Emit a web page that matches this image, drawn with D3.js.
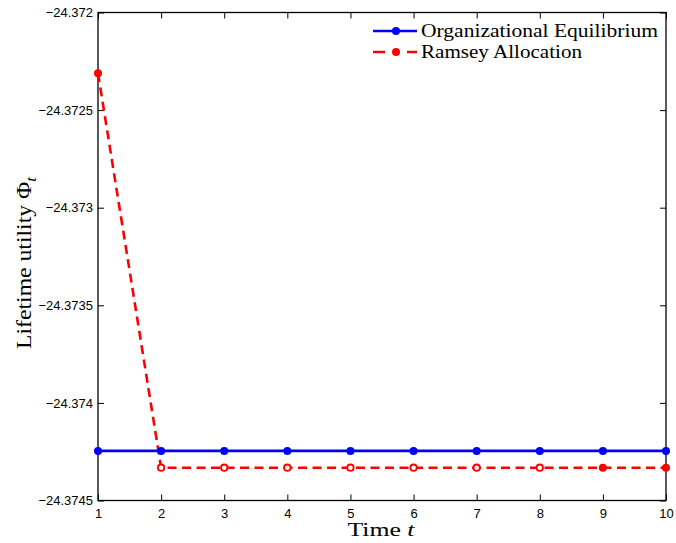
<!DOCTYPE html>
<html><head><meta charset="utf-8">
<script src="https://cdn.jsdelivr.net/npm/d3@7"></script>
<style>body{margin:0;background:#fff}</style>
</head><body>
<script>
const periods = [1,2,3,4,5,6,7,8,9,10];
const organizational = [-24.374246,-24.374246,-24.374246,-24.374246,-24.374246,-24.374246,-24.374246,-24.374246,-24.374246,-24.374246];
const ramsey = [-24.3723106,-24.374332,-24.374332,-24.374332,-24.374332,-24.374332,-24.374332,-24.374332,-24.374332,-24.374332];
const ramseyHollow = [false,true,true,true,true,true,true,true,false,false];
const yTicks = [-24.372,-24.3725,-24.373,-24.3735,-24.374,-24.3745];
const yTickLabels = ["\u221224.372","\u221224.3725","\u221224.373","\u221224.3735","\u221224.374","\u221224.3745"];
const xTicks = [1,2,3,4,5,6,7,8,9,10];
const seriesNames = ["Organizational Equilibrium","Ramsey Allocation"];

(function(){
const W=676,H=543;
const m={l:98,t:12.5,r:666,b:500.5};
const svg=d3.select("body").append("svg").attr("width",W).attr("height",H);
const x=d3.scaleLinear().domain([1,10]).range([m.l,m.r]);
const y=d3.scaleLinear().domain([-24.3745,-24.372]).range([m.b,m.t]);

svg.append("rect").attr("x",m.l).attr("y",m.t).attr("width",m.r-m.l).attr("height",m.b-m.t)
  .attr("fill","none").attr("stroke","#000").attr("stroke-width",1.3);

const tickFont="Liberation Sans, Arial, sans-serif";
const axB=d3.axisBottom(x).tickValues(xTicks).tickSize(-6).tickPadding(8).tickFormat(d3.format("d"));
const gb=svg.append("g").attr("transform",`translate(0,${m.b})`).call(axB);
const axT=d3.axisTop(x).tickValues(xTicks).tickSize(-6).tickFormat("");
const gt=svg.append("g").attr("transform",`translate(0,${m.t})`).call(axT);
const axL=d3.axisLeft(y).tickValues(yTicks).tickSize(-6).tickPadding(5).tickFormat((d,i)=>yTickLabels[i]);
const gl=svg.append("g").attr("transform",`translate(${m.l},0)`).call(axL);
const axR=d3.axisRight(y).tickValues(yTicks).tickSize(-6).tickFormat("");
const gr=svg.append("g").attr("transform",`translate(${m.r},0)`).call(axR);
[gb,gt,gl,gr].forEach(g=>{
  g.select(".domain").remove();
  g.selectAll(".tick line").attr("stroke","#000").attr("stroke-width",1);
  g.selectAll(".tick text").attr("font-family",tickFont).attr("font-size",13).attr("fill","#000");
});

const line=d3.line().x((d,i)=>x(periods[i])).y(d=>y(d));
svg.append("path").datum(organizational).attr("d",line).attr("fill","none")
  .attr("stroke","#0000ff").attr("stroke-width",2.6);
svg.append("path").datum(ramsey).attr("d",line).attr("fill","none")
  .attr("stroke","#ff0000").attr("stroke-width",2.6).attr("stroke-dasharray","9,5.5");

svg.selectAll(".mo").data(organizational).join("circle")
  .attr("cx",(d,i)=>x(periods[i])).attr("cy",d=>y(d)).attr("r",4).attr("fill","#0000ff");
svg.selectAll(".mr").data(ramsey).join("circle")
  .attr("cx",(d,i)=>x(periods[i])).attr("cy",d=>y(d))
  .attr("r",(d,i)=>ramseyHollow[i]?3.2:4)
  .attr("fill",(d,i)=>ramseyHollow[i]?"#fff":"#ff0000")
  .attr("stroke","#ff0000").attr("stroke-width",(d,i)=>ramseyHollow[i]?1.8:0);

const serif="Liberation Serif, Times New Roman, serif";
svg.append("text").attr("x",381).attr("y",536).attr("text-anchor","middle")
  .attr("font-family",serif).attr("font-size",18)
  .attr("textLength",67).attr("lengthAdjust","spacingAndGlyphs")
  .html('Time <tspan font-style="italic">t</tspan>');
svg.append("text").attr("transform",`translate(31,263) rotate(-90)`).attr("text-anchor","middle")
  .attr("font-family",serif).attr("font-size",20)
  .attr("textLength",172).attr("lengthAdjust","spacingAndGlyphs")
  .html('Lifetime utility \u03A6<tspan font-style="italic" font-size="14" dy="5">t</tspan>');

const lg=svg.append("g");
const ly=[31,52];
const colors=["#0000ff","#ff0000"];
const textLens=[237,161];
seriesNames.forEach((n,i)=>{
  lg.append("line").attr("x1",373).attr("x2",417).attr("y1",ly[i]).attr("y2",ly[i])
    .attr("stroke",colors[i]).attr("stroke-width",2.6).attr("stroke-dasharray",i?"12,22":null);
  lg.append("circle").attr("cx",396).attr("cy",ly[i]).attr("r",4).attr("fill",colors[i]);
  lg.append("text").attr("x",421).attr("y",ly[i]).attr("dy","0.33em")
    .attr("font-family",serif).attr("font-size",18)
    .attr("textLength",textLens[i]).attr("lengthAdjust","spacingAndGlyphs").text(n);
});
})();
</script>
</body></html>
